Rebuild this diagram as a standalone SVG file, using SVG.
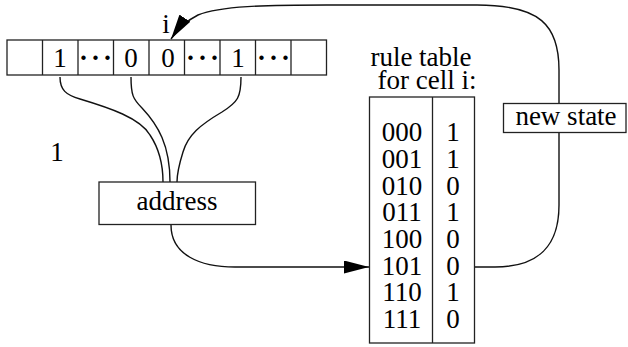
<svg xmlns="http://www.w3.org/2000/svg" width="628" height="347" viewBox="0 0 628 347">
<style>
text{font-family:"Liberation Serif","Times New Roman",serif;font-size:27px;fill:#000}
.c{text-anchor:middle}
.box{fill:#fff;stroke:#222;stroke-width:1.3}
.w{fill:none;stroke:#111;stroke-width:1.4}
.dots{font-weight:bold;letter-spacing:3px}
</style>
<defs>
<marker id="ah" viewBox="0 0 10 10" refX="10" refY="5" markerWidth="25" markerHeight="13" markerUnits="userSpaceOnUse" orient="auto" preserveAspectRatio="none"><path d="M0,0L10,5L0,10z" fill="#000"/></marker>
</defs>
<g id="tape">
<rect class="box" x="7" y="40" width="319.5" height="35"/>
<g stroke="#222" stroke-width="1.3">
<line x1="42.5" y1="40" x2="42.5" y2="75"/><line x1="78" y1="40" x2="78" y2="75"/>
<line x1="113.5" y1="40" x2="113.5" y2="75"/><line x1="149" y1="40" x2="149" y2="75"/>
<line x1="184.5" y1="40" x2="184.5" y2="75"/><line x1="220" y1="40" x2="220" y2="75"/>
<line x1="255.5" y1="40" x2="255.5" y2="75"/><line x1="291" y1="40" x2="291" y2="75"/>
</g>
<text class="c" x="60" y="67">1</text>
<text class="c dots" x="97" y="67">···</text>
<text class="c" x="131" y="67">0</text>
<text class="c" x="168" y="67">0</text>
<text class="c dots" x="204" y="67">···</text>
<text class="c" x="238" y="67">1</text>
<text class="c dots" x="275" y="67">···</text>
<text class="c" x="166" y="33">i</text>
</g>
<text id="one" class="c" x="57" y="161">1</text>
<g id="connectors">
<path class="w" d="M60,77 C60,90 66,95 80,99 C110,108 140,118 150,135 C160,150 163,165 163,182"/>
<path class="w" d="M131,77 C131,95 133,99 142,108 C158,125 170,145 170,182"/>
<path class="w" d="M241,77 C241,97 238,102 222,112 C200,125 188,135 183,152 C178,168 177,175 177,182"/>
<path class="w" d="M171,225 C171,255 200,267 235,267 L369,267" marker-end="url(#ah)"/>
<path class="w" d="M474,267 L495,267 C540,267 559,245 559,205 L559,70 C559,25 540,5 477,5 L327,5 C265,5 220,6 198,15 C188,20 179,27 171,39" marker-end="url(#ah)"/>
</g>
<g id="address">
<rect class="box" x="99" y="182" width="156.5" height="42.5"/>
<text class="c" x="177" y="210">address</text>
</g>
<g id="ruletable">
<text class="c" x="421" y="66">rule table</text>
<text class="c" x="427" y="89">for cell i:</text>
<rect class="box" x="369.5" y="97" width="105" height="246"/>
<line x1="432.5" y1="97" x2="432.5" y2="343" stroke="#222" stroke-width="1.3"/>
<text class="c" x="402" y="141">000</text><text class="c" x="453" y="141">1</text>
<text class="c" x="402" y="168">001</text><text class="c" x="453" y="168">1</text>
<text class="c" x="402" y="194.5">010</text><text class="c" x="453" y="194.5">0</text>
<text class="c" x="402" y="221">011</text><text class="c" x="453" y="221">1</text>
<text class="c" x="402" y="248">100</text><text class="c" x="453" y="248">0</text>
<text class="c" x="402" y="274.5">101</text><text class="c" x="453" y="274.5">0</text>
<text class="c" x="402" y="301">110</text><text class="c" x="453" y="301">1</text>
<text class="c" x="402" y="328">111</text><text class="c" x="453" y="328">0</text>
</g>
<g id="newstate">
<rect class="box" x="503.5" y="103.5" width="122.5" height="29"/>
<text class="c" x="566" y="125">new state</text>
</g>
</svg>
